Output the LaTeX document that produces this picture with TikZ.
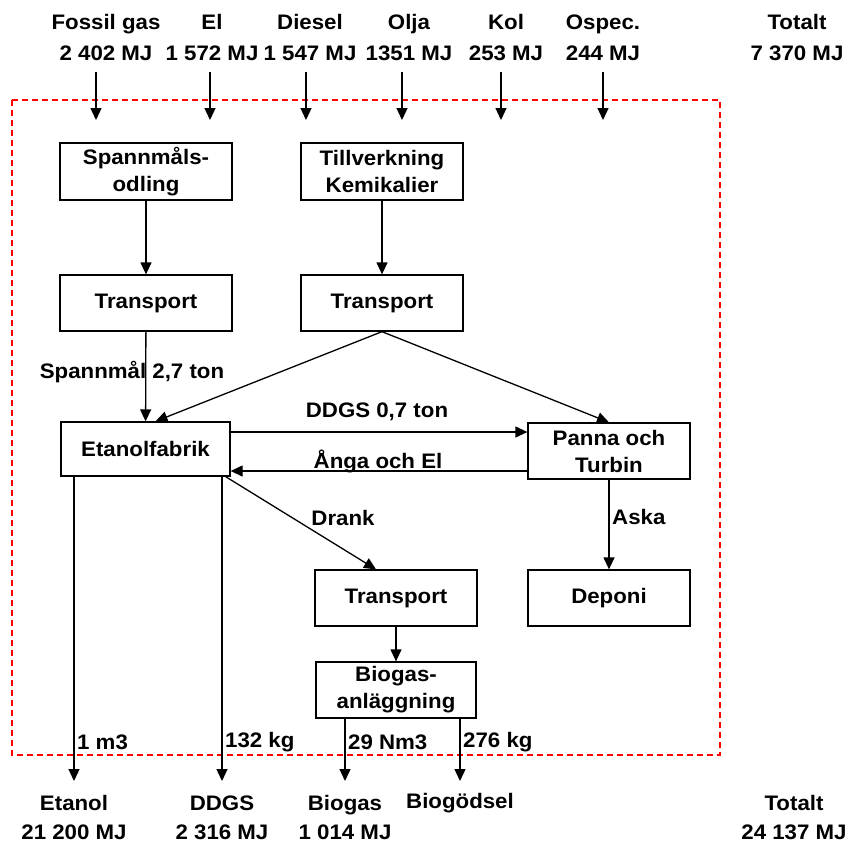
\documentclass[tikz,border=0pt]{standalone}
\usepackage{fontspec}
\setmainfont[FakeStretch=1.06]{Liberation Sans}
\usetikzlibrary{arrows.meta}
\begin{document}
\begin{tikzpicture}[x=1pt,y=-1pt,
  every node/.style={font=\bfseries\fontsize{21}{27}\selectfont},
  box/.style={draw, line width=1.3pt, minimum width=#1, minimum height=56pt, inner sep=0pt, align=center},
  toplbl/.style={align=center, inner sep=0pt, font=\bfseries\fontsize{21}{31}\selectfont},
  botlbl/.style={align=center, inner sep=0pt, font=\bfseries\fontsize{21}{29}\selectfont},
  elbl/.style={inner sep=0pt},
  arr/.style={-{Triangle[width=11pt,length=12pt]}, line width=1.3pt}
]
\useasboundingbox (0,0) rectangle (848,844);
\fill[white] (0,0) rectangle (848,844);

% system boundary
\coordinate (bbtl) at (12,100);
\coordinate (bbbr) at (720,755);
\draw[red, line width=1.2pt, dash pattern=on 6pt off 4pt] (bbtl) rectangle (bbbr);

% top inputs
\node[toplbl] (fg) at (106,37.5) {Fossil gas\\2 402 MJ};
\node[toplbl] (el) at (212,37.5) {El\\1 572 MJ};
\node[toplbl] (di) at (310,37.5) {Diesel\\1 547 MJ};
\node[toplbl] (ol) at (409,37.5) {Olja\\1351 MJ};
\node[toplbl] (ko) at (506,37.5) {Kol\\253 MJ};
\node[toplbl] (os) at (603,37.5) {Ospec.\\244 MJ};
\node[toplbl] (tt) at (797,37.5) {Totalt\\7 370 MJ};

\foreach \n/\x in {a/96,b/210,c/306,d/402,e/501,f/603}{
  \coordinate (in\n s) at (\x,72);
  \coordinate (in\n e) at (\x,120);
  \draw[arr] (in\n s) -- (in\n e);
}

% boxes
\node[box=172pt, minimum height=57pt] (spann) at (146,171.5) {Spannmåls-\\odling};
\node[box=162pt, minimum height=57pt] (till) at (382,171.5) {Tillverkning\\Kemikalier};
\node[box=172pt] (t1) at (146,303) {Transport};
\node[box=162pt] (t2) at (382,303) {Transport};
\node[box=169pt, minimum height=54pt] (etan) at (145.5,449) {Etanolfabrik};
\node[box=162pt] (panna) at (609,451) {Panna och\\Turbin};
\node[box=162pt] (t3) at (396,598) {Transport};
\node[box=162pt] (dep) at (609,598) {Deponi};
\node[box=160pt] (bio) at (396,690) {Biogas-\\anläggning};

% connectors
\draw[arr] (spann) -- (t1);
\draw[arr] (till) -- (t2);
\draw[arr] (t1) -- (etan);
\draw[arr] (t2.south) -- ([xshift=10pt]etan.north);
\draw[arr] (t2.south) -- (panna.north);
\draw[arr] ([yshift=17pt]etan.east) -- ([yshift=17pt]etan.east -| panna.west);
\draw[arr] ([yshift=-22pt]etan.east -| panna.west) -- ([yshift=-22pt]etan.east);
\draw[arr] ([xshift=-5pt]etan.south east) -- ([xshift=-20pt]t3.north);
\draw[arr] (panna) -- (dep);
\draw[arr] (t3) -- (bio);

% edge labels
\node[elbl] (l1) at (132,372) {Spannmål 2,7 ton};
\node[elbl] (l2) at (377,412) {DDGS 0,7 ton};
\node[elbl] (l3) at (378,461) {Ånga och El};
\node[elbl] (l4) at (343,518) {Drank};
\node[elbl, anchor=west] (l5) at (612,517) {Aska};

% outputs
\coordinate (oe) at (74,781);
\coordinate (od) at (222,781);
\coordinate (ob) at (345,781);
\coordinate (og) at (460,781);
\draw[arr] (oe |- etan.south) -- (oe);
\draw[arr] (od |- etan.south) -- (od);
\draw[arr] (ob |- bio.south) -- (ob);
\draw[arr] (og |- bio.south) -- (og);

\node[elbl, anchor=west] (q1) at (77,742) {1 m3};
\node[elbl, anchor=west] (q2) at (225,742) {132 kg};
\node[elbl, anchor=west] (q3) at (348,742) {29 Nm3};
\node[elbl, anchor=west] (q4) at (463,742) {276 kg};

\node[botlbl] (be) at (74,817.5) {Etanol\\21 200 MJ};
\node[botlbl] (bd) at (222,817.5) {DDGS\\2 316 MJ};
\node[botlbl] (bb) at (345,817.5) {Biogas\\1 014 MJ};
\node[botlbl] (bg) at (460,803) {Biogödsel};
\node[botlbl] (bt) at (794,817.5) {Totalt\\24 137 MJ};
\end{tikzpicture}
\end{document}
